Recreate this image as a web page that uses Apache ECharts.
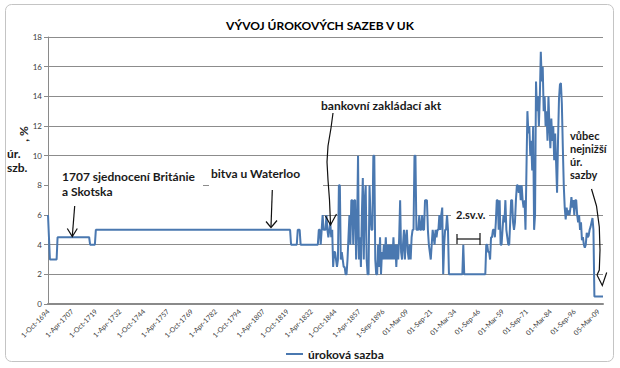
<!DOCTYPE html>
<html><head><meta charset="utf-8">
<script src="https://cdn.jsdelivr.net/npm/echarts@6/dist/echarts.min.js"></script>
<style>html,body{margin:0;padding:0;background:#fff}#c{width:620px;height:368px}</style>
</head><body><div id="c"></div>
<script>
const chartTitle = 'VÝVOJ ÚROKOVÝCH SAZEB V UK';
const seriesName = 'úroková sazba';
const tickLabels = ['1-Oct-1694','1-Apr-1707','1-Oct-1719','1-Apr-1732','1-Oct-1744','1-Apr-1757','1-Oct-1769','1-Apr-1782','1-Oct-1794','1-Apr-1807','1-Oct-1819','1-Apr-1832','1-Oct-1844','1-Apr-1857','1-Sep-1896','01-Mar-09','01-Sep-21','01-Mar-34','01-Sep-46','01-Mar-59','01-Sep-71','01-Mar-84','01-Sep-96','05-Mar-09'];
const pointsPerTick = 25;
// rate values (%), one row per tick-label interval
const ratesEarly = [
6,4.5,3,3,3,3,3,3,3,3,4.5,4.5,4.5,4.5,4.5,4.5,4.5,4.5,4.5,4.5,4.5,4.5,4.5,4.5,4.5,
4.5,4.5,4.5,4.5,4.5,4.5,4.5,4.5,4.5,4.5,4.5,4.5,4.5,4.5,4.5,4.5,4.5,4.5,4.5,4,4,4,4,4,4,
5,5,5,5,5,5,5,5,5,5,5,5,5,5,5,5,5,5,5,5,5,5,5,5,5,
5,5,5,5,5,5,5,5,5,5,5,5,5,5,5,5,5,5,5,5,5,5,5,5,5,
5,5,5,5,5,5,5,5,5,5,5,5,5,5,5,5,5,5,5,5,5,5,5,5,5,
5,5,5,5,5,5,5,5,5,5,5,5,5,5,5,5,5,5,5,5,5,5,5,5,5,
5,5,5,5,5,5,5,5,5,5,5,5,5,5,5,5,5,5,5,5,5,5,5,5,5,
5,5,5,5,5,5,5,5,5,5,5,5,5,5,5,5,5,5,5,5,5,5,5,5,5,
5,5,5,5,5,5,5,5,5,5,5,5,5,5,5,5,5,5,5,5,5,5,5,5,5,
5,5,5,5,5,5,5,5,5,5,5,5,5,5,5,5,5,5,5,5,5,5,5,5,5,
5,5,5,5,4,4,4,4,4,4,4,5,5,5,4,4,4,4,4,4,4,4,4,4,4,
4,4,4,4,4,4,4,4,5,5,4,5,6,5,5,5,6,5,4.5,5,5.5,4.5,5,2.5,3.5
];
const ratesLate = [
3.5,3,2.5,3,8,8,3,3.5,3,2.5,2.5,2,2,3,4.5,6,4,7,7,4,7,7,3,5,10,
3,4.5,2.5,6,8.5,3,7,8,3,2,2,8,6,5,5,10,10,3,2,2,4,2.5,4.5,2,3.5,
3,4,3,4.5,3,4,3,4,3,4,3,4.5,3,4,2.5,4,3,4.5,7,3.5,3,4,5,3,4.5,
5,3.5,3,4,3,4.5,5,5,10,10,5,5,5,6,5,5,6,5,5,7,7,7,5,4,3.5,
3,4,5,4.5,4,5,4.5,5,5,6,5,6,6.5,2,4,5,5,6,5,2,2,2,2,2,2,
2,2,2,2,2,2,2,2,2,4,2,2,2,2,2,2,2,2,2,2,2,2,2,2,2,
2,2,2,2,2,2,2,2,4,4,3.5,3.5,3,4.5,4.5,5,5,4.5,5.5,7,7,5,7,4,4,
5,6,5.5,7,5,4.5,4,4,5.5,7,7,5.5,5,5.5,7,8,8,7.5,8,7,8,7,6.5,7,5,
9,13,11.5,12,10,11,9,12,5,6,15,13,14,12,14,17,15,16,13,14,12,13,11,14,12,
10.5,12.5,11,12,9.7,11.5,9.5,7.5,11,13.8,14.8,14.9,13.5,10.6,8,6.5,5.7,6.5,6,6.3,6,6.5,7.2,6.5,7,
6,7,7,6,5.5,6,5,5.5,4.3,4.5,4,3.8,4,4.8,4.5,4.6,5,5.2,5.5,5.8,5,0.5,0.5,0.5,0.5,
0.5,0.5,0.5,0.5,0.5,0.5
];
const yTitle = ['úr.', 'szb.'];
const yUnit = ', %';
const notes = {
  union: ['1707 sjednocení Británie', 'a Skotska'],
  waterloo: 'bitva u Waterloo',
  bank: 'bankovní zakládací akt',
  ww2: '2.sv.v.',
  lowest: ['vůbec', 'nejnižší', 'úr.', 'sazby']
};

const rates = ratesEarly.concat(ratesLate);
const categories = rates.map((_, i) => String(i));
const FONT = 'Lato, "Liberation Sans", sans-serif';
const ink = '#1a1a1a';

function txt(x, y, text, size, extra) {
  return Object.assign({
    type: 'text', x: x, y: y, z: 20,
    style: { text: text, fill: ink, font: 'bold ' + size + 'px ' + FONT, textVerticalAlign: 'top' }
  }, extra || {});
}
function box(x, y, w, h) {
  return { type: 'rect', z: 1, shape: { x: x, y: y, width: w, height: h }, style: { fill: '#fff', stroke: null } };
}
function pl(points) {
  return { type: 'polyline', z: 20, shape: { points: points }, style: { stroke: '#111', lineWidth: 1.2, fill: null } };
}

const chart = echarts.init(document.getElementById('c'), null, { renderer: 'svg' });
chart.setOption({
  animation: false,
  backgroundColor: '#fff',
  textStyle: { fontFamily: FONT },
  grid: { left: 48, right: 17, top: 37, bottom: 64, containLabel: false },
  legend: {
    data: [seriesName], left: 281, top: 343, icon: 'rect', itemWidth: 17, itemHeight: 2,
    textStyle: { fontSize: 12, fontWeight: 'bold', color: ink, fontFamily: FONT }
  },
  xAxis: {
    type: 'category', data: categories, boundaryGap: false,
    axisLine: { lineStyle: { color: '#8a8a8a', width: 2 } },
    axisTick: { show: false },
    axisLabel: {
      interval: pointsPerTick - 1, rotate: 45, fontSize: 7, color: '#404040', margin: 6,
      formatter: (v, i) => tickLabels[Math.round(i / pointsPerTick)] || ''
    },
    splitLine: { show: false }
  },
  yAxis: {
    type: 'value', min: 0, max: 18, interval: 2,
    axisLine: { show: true, lineStyle: { color: '#8a8a8a', width: 1 } },
    axisTick: { show: true, length: 4, lineStyle: { color: '#8a8a8a' } },
    axisLabel: { fontSize: 8, color: '#404040', margin: 6 },
    splitLine: { lineStyle: { color: '#8c8c8c', width: 1 } }
  },
  series: [{
    name: seriesName, type: 'line', data: rates, showSymbol: false, symbol: 'none', z: 5,
    lineStyle: { color: '#4a78b0', width: 2 }, itemStyle: { color: '#4a78b0' }
  }],
  graphic: [
    { type: 'rect', z: 30, shape: { x: 5.5, y: 4.5, width: 608, height: 357, r: 6 }, style: { fill: null, stroke: '#c4c4c4', lineWidth: 1 } },
    txt(320, 19, chartTitle, 12, { style: { text: chartTitle, fill: '#000', font: 'bold 12px ' + FONT, textAlign: 'center', textVerticalAlign: 'top' } }),
    box(49, 163, 154, 30), box(209, 158, 114, 35), box(49, 193, 274, 29),
    box(451, 205, 38, 38), box(567, 118, 40, 74),
    txt(7, 147, yTitle[0], 12), txt(7, 161, yTitle[1], 12),
    { type: 'text', z: 20, x: 23, y: 134, rotation: Math.PI / 2,
      style: { text: yUnit, fill: ink, font: 'bold 12px ' + FONT, textAlign: 'center', textVerticalAlign: 'middle' } },
    txt(62, 170, notes.union[0], 12), txt(62, 185, notes.union[1], 12),
    txt(211, 167, notes.waterloo, 12),
    txt(321, 99, notes.bank, 12),
    txt(456, 209, notes.ww2, 11),
    txt(570, 130, notes.lowest[0], 11), txt(570, 143, notes.lowest[1], 11),
    txt(570, 156, notes.lowest[2], 11), txt(570, 169, notes.lowest[3], 11),
    pl([[74.7, 206], [72.3, 236]]), pl([[67.3, 228.5], [72.3, 236.5], [77.3, 228.5]]),
    pl([[272.3, 190], [271, 227]]), pl([[266, 221.5], [271, 227.5], [277, 220.5]]),
    pl([[333, 113], [331, 128], [328, 146], [327, 162], [328, 180], [329.5, 200], [330.5, 224]]),
    pl([[325.5, 216], [330.5, 225], [336.5, 214]]),
    pl([[591.5, 189], [596.5, 206], [599.3, 227], [600, 250], [599.3, 270], [597, 275]]),
    pl([[597, 275], [602.3, 285.5], [606.7, 272.5]]),
    pl([[457, 239], [480, 239]]), pl([[457, 234], [457, 244]]), pl([[480, 233], [480, 245]])
  ]
});
</script></body></html>
